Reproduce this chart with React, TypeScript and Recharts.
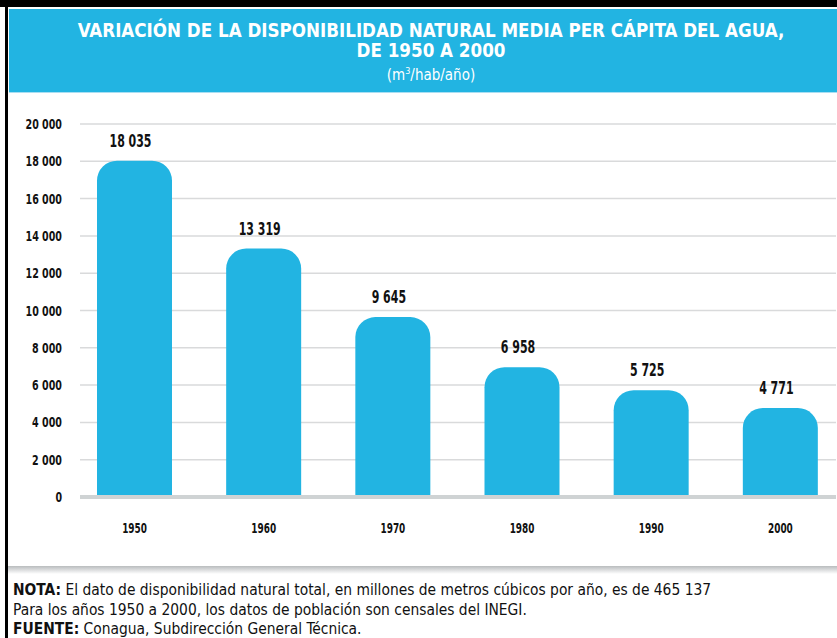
import React from "react";
import { BarChart, Bar, XAxis, YAxis, CartesianGrid, LabelList } from "recharts";

const categories = ["1950", "1960", "1970", "1980", "1990", "2000"];
const values = [18035, 13319, 9645, 6958, 5725, 4771];
const yTicks = [0, 2000, 4000, 6000, 8000, 10000, 12000, 14000, 16000, 18000, 20000];

const titleLines = [
  "VARIACIÓN DE LA DISPONIBILIDAD NATURAL MEDIA PER CÁPITA DEL AGUA,",
  "DE 1950 A 2000",
];
const noteLines = [
  { bold: "NOTA:", text: " El dato de disponibilidad natural total, en millones de metros cúbicos por año, es de 465 137" },
  { bold: "", text: "Para los años 1950 a 2000, los datos de población son censales del INEGI." },
  { bold: "FUENTE:", text: " Conagua, Subdirección General Técnica." },
];

const data = categories.map((c, i) => ({ year: c, value: values[i] }));

const fmt = (v: any) => String(v).replace(/\B(?=(\d{3})+(?!\d))/g, " ");

const FONT = "'Liberation Sans Narrow', 'DejaVu Sans Condensed', 'Roboto', sans-serif";
const BLUE = "#22b4e2";

const charW = (s: string, w: number, sp: number) =>
  s.split("").reduce((a, ch) => a + (ch === " " ? sp : w), 0);

const YTick = (props: any) => {
  const { x, y, payload } = props;
  const s = fmt(payload.value);
  return (
    <text x={x} y={y} dy={5} textAnchor="end" fontSize={14} fontWeight={700} fill="#111" fontFamily={FONT}
      textLength={charW(s, 6.6, 3.5)} lengthAdjust="spacingAndGlyphs">
      {s}
    </text>
  );
};

const XTick = (props: any) => {
  const { x, y, payload } = props;
  const s = String(payload.value);
  return (
    <text x={x} y={y} dy={12} textAnchor="middle" fontSize={14} fontWeight={700} fill="#111" fontFamily={FONT}
      textLength={charW(s, 6.2, 3)} lengthAdjust="spacingAndGlyphs">
      {s}
    </text>
  );
};

const BarLabel = (props: any) => {
  const { x, y, width, value } = props;
  const s = fmt(value);
  return (
    <text x={x + width / 2 - 4} y={y - 14} textAnchor="middle" fontSize={18} fontWeight={700} fill="#111" fontFamily={FONT}
      textLength={charW(s, 7.6, 4)} lengthAdjust="spacingAndGlyphs">
      {s}
    </text>
  );
};

export default function App() {
  return (
    <div style={{ position: "absolute", left: 0, top: 0, width: 837, height: 638, overflow: "hidden", background: "#fff", fontFamily: FONT }}>
      <div style={{ position: "absolute", left: 0, top: 0, width: 837, height: 7, background: "#000" }} />
      <div style={{ position: "absolute", left: 5, top: 0, width: 3, height: 638, background: "#000" }} />
      <div style={{ position: "absolute", left: 9, top: 9, width: 828, height: 83, background: BLUE, borderBottom: "1px solid #a9def2" }} />
      <div style={{ position: "absolute", left: 9, top: 21, width: 844, textAlign: "center", color: "#fff", fontWeight: 700, fontSize: 18.6, lineHeight: "20px" }}>
        {titleLines[0]}
      </div>
      <div style={{ position: "absolute", left: 9, top: 41, width: 844, textAlign: "center", color: "#fff", fontWeight: 700, fontSize: 18.6, lineHeight: "20px" }}>
        {titleLines[1]}
      </div>
      <div style={{ position: "absolute", left: 9, top: 66, width: 844, textAlign: "center", color: "#fff", fontSize: 15, lineHeight: "18px" }}>
        (m<sup style={{ fontSize: 9, verticalAlign: "top", lineHeight: "10px" }}>3</sup>/hab/año)
      </div>

      <div style={{ position: "absolute", left: 0, top: 93 }}>
        <BarChart width={837} height={470} data={data} margin={{ top: 31, right: 1, bottom: 36, left: 0 }}>
          <CartesianGrid vertical={false} stroke="#d9dadb" strokeWidth={1.5} />
          <XAxis
            dataKey="year"
            padding={{ left: -10, right: -9 }}
            axisLine={{ stroke: "#cfd3d4", strokeWidth: 4 }}
            tickLine={false}
            tickMargin={18}
            tick={<XTick />}
          />
          <YAxis
            width={80}
            domain={[0, 20000]}
            ticks={yTicks}
            axisLine={false}
            tickLine={false}
            tickMargin={12}
            tick={<YTick />}
          />
          <Bar dataKey="value" fill={BLUE} barSize={75} radius={[20, 20, 0, 0]} isAnimationActive={false}>
            <LabelList dataKey="value" content={<BarLabel />} />
          </Bar>
        </BarChart>
      </div>

      <div style={{ position: "absolute", left: 8, top: 566, width: 829, height: 8, background: "linear-gradient(#b9bcbe, #ffffff)" }} />
      {noteLines.map((l, i) => (
        <div key={i} style={{ position: "absolute", left: 13, top: 581 + i * 19.5, fontSize: 15.4, lineHeight: "18px", color: "#111", whiteSpace: "nowrap" }}>
          {l.bold ? <b>{l.bold}</b> : null}
          {l.text}
        </div>
      ))}
    </div>
  );
}
